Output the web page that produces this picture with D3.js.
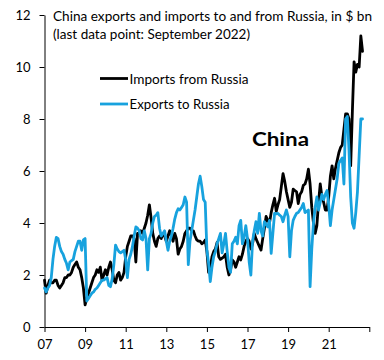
<!DOCTYPE html>
<html>
<head>
<meta charset="utf-8">
<script src="https://cdn.jsdelivr.net/npm/d3@7"></script>
<style>
  html, body { margin: 0; padding: 0; background: #fff; }
  svg { display: block; }
  text { font-family: Lato, "Noto Sans", sans-serif; fill: #000; }
</style>
</head>
<body>
<svg id="chart" width="384" height="360"></svg>
<script>
// ---- data (monthly, Jan 2007 - Sep 2022, $ bn) ----
const startYear = 2007;
const importsFromRussia = [
  1.8, 1.3, 1.6, 1.8, 1.7, 1.7, 1.8, 1.8, 1.6, 1.5, 1.6, 1.7,
  1.9, 1.9, 2.0, 2.0, 2.1, 2.3, 2.4, 2.5, 2.3, 2.2, 1.9, 1.5,
  0.85, 1.1, 1.3, 1.5, 1.7, 1.9, 2.0, 2.2, 2.1, 2.3, 1.8, 2.0,
  2.2, 2.0, 2.3, 2.5, 2.2, 1.8, 1.7, 2.0, 2.1, 1.8, 1.9, 2.1,
  2.7, 3.1, 3.3, 3.5, 3.5, 3.4, 2.5, 3.6, 3.6, 3.7, 3.6, 3.8,
  4.0, 4.3, 4.7, 4.2, 3.6, 3.3, 3.1, 3.4, 3.5, 3.4, 3.6, 3.5,
  3.3, 3.5, 3.7, 3.5, 3.3, 3.6, 3.4, 2.8, 3.0, 3.1, 3.3, 3.6,
  3.7, 3.8, 3.8, 3.7, 3.7, 3.5, 3.35, 3.3, 3.3, 3.2, 3.25, 3.35,
  2.9, 2.1, 2.3, 2.7, 2.9, 3.0, 3.25, 2.7, 2.6, 2.65, 2.7, 2.8,
  2.3, 2.0, 2.2, 2.58, 2.5, 2.3, 2.5, 2.7, 2.58, 2.8, 3.1, 3.3,
  3.4, 3.3, 3.0, 3.2, 3.6, 3.4, 3.25, 3.1, 2.96, 3.4, 3.8, 4.25,
  4.1, 4.0, 4.4, 4.7, 4.95, 4.45, 4.7, 4.9, 5.4, 5.9, 5.6, 5.2,
  4.9, 4.6, 4.8, 5.3, 5.25, 5.2, 4.75, 5.1, 5.2, 5.45, 5.5, 5.7,
  6.07, 5.5, 4.6, 4.0, 3.6, 3.9, 4.8, 5.5, 5.0, 4.8, 4.5, 4.5,
  5.0, 5.8, 6.2, 5.7, 6.1, 6.4, 6.7, 6.9, 7.0, 7.6, 8.2, 8.2,
  8.0, 6.2, 8.3, 10.2, 9.8, 10.1, 10.0, 11.2, 10.6
];
const exportsToRussia = [
  1.5, 1.35, 1.5, 1.6, 1.9, 2.6, 3.1, 3.45, 3.4, 3.1, 2.9, 2.8,
  2.6, 2.45, 2.2, 2.5, 2.55, 2.6, 2.9, 3.1, 3.3, 3.3, 2.95, 3.35,
  3.4, 1.0, 1.1, 1.2, 1.3, 1.35, 1.45, 1.5, 1.6, 1.7, 1.8, 1.8,
  1.85, 1.9, 1.6, 1.55, 1.85, 2.4, 3.15, 3.0, 2.9, 2.85, 2.9, 2.95,
  2.6, 1.9, 2.6, 2.8, 3.1, 3.5, 3.85, 3.8, 3.7, 3.4, 3.35, 3.7,
  3.4, 2.2, 3.4, 3.6, 4.0, 4.25, 4.3, 4.4, 3.8, 3.5, 3.6, 3.7,
  3.3, 2.95, 3.3, 3.5, 3.8, 4.15, 4.4, 4.55, 4.5, 4.6, 4.7, 5.0,
  4.8, 2.4, 3.3, 3.7, 4.1, 4.5, 5.0, 5.5, 5.8, 5.4, 4.9, 4.8,
  2.95, 2.45, 1.75, 2.3, 2.7, 2.9, 3.2, 3.4, 3.6, 2.85, 3.2, 3.6,
  2.9, 2.3, 2.1, 3.2, 3.3, 3.45, 3.2, 3.9, 4.1, 3.2, 3.45, 3.9,
  3.4, 2.5, 2.0, 3.3, 3.7, 4.05, 3.6, 4.37, 3.7, 3.5, 4.05, 3.95,
  3.85, 4.1, 2.83, 3.6, 4.37, 4.35, 4.37, 4.3, 4.25, 4.05, 4.3, 4.5,
  4.25, 2.7, 3.7, 4.1, 4.25, 4.37, 4.4, 4.5, 4.6, 4.75, 4.4, 4.45,
  4.5, 1.55, 3.0, 4.0, 4.6, 5.0, 4.5, 4.8, 5.1, 4.9, 5.1, 5.25,
  4.7, 3.9, 4.5, 4.9, 5.3, 5.7, 6.3, 6.4, 6.5, 5.5, 8.0, 8.1,
  6.8, 5.0, 4.0, 3.8, 4.4, 5.2, 6.6, 8.0, 8.0
];
const yTickValues = [0, 2, 4, 6, 8, 10, 12];
const xTickLabels = ["07", "09", "11", "13", "15", "17", "19", "21", ""];
const seriesNames = ["Imports from Russia", "Exports to Russia"];
const seriesColors = ["#000000", "#17a2de"];
const titleLines = ["China exports and imports to and from Russia, in $ bn",
                    "(last data point: September 2022)"];
const annotation = "China";

// ---- layout ----
const svg = d3.select("#chart");
const plotLeft = 44.5, plotRight = 369.3, plotTop = 15, plotBottom = 327;
const monthsSpan = (2023 - startYear) * 12;

const x = d3.scaleLinear().domain([0, monthsSpan]).range([plotLeft, plotRight]);
const y = d3.scaleLinear().domain([0, 12]).range([plotBottom, plotTop]);

// y axis
const yAxis = svg.append("g")
  .attr("transform", `translate(${plotLeft},0)`)
  .call(d3.axisLeft(y).tickValues(yTickValues).tickSize(5).tickSizeOuter(0).tickPadding(9));
yAxis.selectAll("text").attr("font-size", 13).style("font-family", "Lato, 'Noto Sans', sans-serif").attr("fill", "#000");
yAxis.selectAll("line, path").attr("stroke", "#000");

// x axis
const xTickVals = xTickLabels.map((d, i) => i * 24);
const xAxis = svg.append("g")
  .attr("transform", `translate(0,${plotBottom})`)
  .call(d3.axisBottom(x).tickValues(xTickVals).tickSize(5).tickSizeOuter(0).tickPadding(8)
    .tickFormat((d, i) => xTickLabels[i]));
xAxis.selectAll("text").attr("font-size", 13).style("font-family", "Lato, 'Noto Sans', sans-serif").attr("fill", "#000");
xAxis.selectAll("line, path").attr("stroke", "#000");

// lines
const line = d3.line().x((d, i) => x(i)).y(d => y(d));
[importsFromRussia, exportsToRussia].forEach((s, k) => {
  svg.append("path")
    .datum(s)
    .attr("d", line)
    .attr("fill", "none")
    .attr("stroke", seriesColors[k])
    .attr("stroke-width", 2.8)
    .attr("stroke-linejoin", "round")
    .attr("stroke-linecap", "round");
});

// title
svg.append("text").attr("x", 53).attr("y", 21).attr("font-size", 14)
  .attr("textLength", 319).attr("lengthAdjust", "spacingAndGlyphs").text(titleLines[0]);
svg.append("text").attr("x", 53).attr("y", 38.5).attr("font-size", 14)
  .attr("textLength", 197).attr("lengthAdjust", "spacingAndGlyphs").text(titleLines[1]);

// legend
const legY = [78.5, 104];
const legW = [119, 100];
seriesNames.forEach((n, k) => {
  svg.append("line").attr("x1", 100).attr("x2", 128).attr("y1", legY[k]).attr("y2", legY[k])
    .attr("stroke", seriesColors[k]).attr("stroke-width", 2.8);
  svg.append("text").attr("x", 129.5).attr("y", legY[k] + 5).attr("font-size", 14)
    .attr("textLength", legW[k]).attr("lengthAdjust", "spacingAndGlyphs").text(n);
});

// annotation
svg.append("text").attr("x", 252).attr("y", 146).attr("font-size", 19).attr("font-weight", "bold")
  .attr("textLength", 57).attr("lengthAdjust", "spacingAndGlyphs").text(annotation);
</script>
</body>
</html>
